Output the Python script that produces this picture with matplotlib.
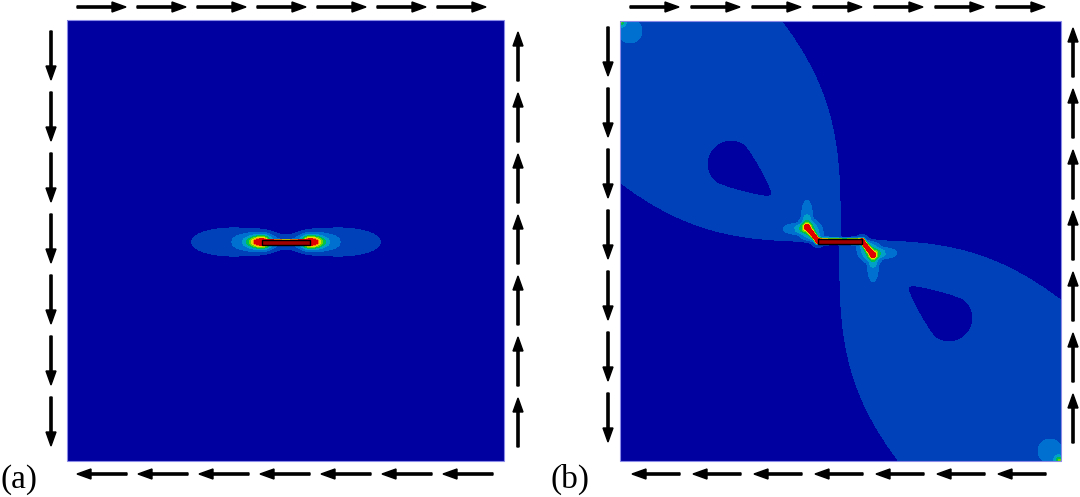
import numpy as np
import matplotlib
matplotlib.use("Agg")
import matplotlib.pyplot as plt
from matplotlib.patches import Rectangle

# contour bands (jet-like, stepped)
levels = [-100, 1, 2, 3, 4, 5, 6, 7, 8, 1000]
band_colors = ['#0000a0', '#0040b8', '#0070d0', '#00a0c8', '#00c050',
               '#70d800', '#e8e000', '#ff8000', '#e00000']

# crack geometry (image pixels)
crack_a = [(262, 242), (310, 242)]
crack_b = [(807, 227), (818, 241), (862, 241), (873, 255)]
centre_b = (840, 241)

# boundary loading arrows: count per side
n_arrows = 7
labels = ['(a)', '(b)']


def seg_dist(x, y, p, q):
    px, py = p
    qx, qy = q
    dx, dy = qx - px, qy - py
    t = ((x - px) * dx + (y - py) * dy) / (dx * dx + dy * dy)
    t = np.clip(t, 0, 1)
    return np.hypot(x - (px + t * dx), y - (py + t * dy))


def field_a(X, Y):
    V = np.zeros_like(X)
    (x0, y0), (x1, y1) = crack_a
    for tip, ex in [((x0, y0), -1.0), ((x1, y1), 1.0)]:
        u = (X - tip[0]) * ex
        v = Y - tip[1]
        q = ((u - 32) / 46) ** 2 + (v / 16.5) ** 2
        V += 1.6 * np.exp(-q ** 2)
        a = np.where(u > 0, 1.0, 0.5)
        rho = np.sqrt((u / a) ** 2 + (v / 0.4) ** 2)
        V += 14.4 * np.exp(-rho / 8.4)
    d = seg_dist(X, Y, crack_a[0], crack_a[1])
    V += 1.4 * np.exp(-(d / 9) ** 2) + 14 * np.exp(-(d / 2) ** 4)
    return V


def ellip(X, Y, c, sx, sy):
    q = ((X - c[0]) / sx) ** 2 + ((Y - c[1]) / sy) ** 2
    return np.exp(-q ** 2)


def upper_left_parts(X, Y):
    # dark hole (teardrop) inside the shear band
    c = np.array([731.0, 164.0])
    tp = np.array([771.0, 195.0])
    L = np.hypot(*(tp - c))
    ex, ey = (tp - c) / L
    R = 24.0
    t = (X - c[0]) * ex + (Y - c[1]) * ey
    n = -(X - c[0]) * ey + (Y - c[1]) * ex
    At = np.where(t < 0, R, L)
    ns = np.maximum(R * (1 - 0.55 * np.clip(t, 0, None) / L), 0.5)
    q = (t / At) ** 2 + (n / ns) ** 2
    hole = 0.5 * (1 + np.tanh((1 - q) / 0.08))

    extra = np.zeros_like(X)
    # corner blob
    extra += 1.0 * ellip(X, Y, (630, 31), 13, 13)
    extra += 3.5 * np.exp(-(np.hypot(X - 620, Y - 21) / 5) ** 2)
    # wing-crack tip lobes
    p0, p1 = crack_b[0], crack_b[1]
    extra += 1.2 * ellip(X, Y, (807, 213), 5, 13)
    extra += 1.2 * ellip(X, Y, (795, 229), 12, 5)
    extra += 1.0 * ellip(X, Y, (811, 231), 11, 9)
    extra += 4.0 * np.exp(-np.hypot(X - p0[0], Y - p0[1]) / 4)
    d = seg_dist(X, Y, p0, p1)
    extra += 9 * np.exp(-(d / 1.6) ** 2) + 3.2 * np.exp(-d / 3.5)
    return hole, extra


def field_b(X, Y):
    cx, cy = centre_b
    Xn, Yn = (X - cx) / 220, (Y - cy) / 220
    s = (Xn + Yn) / np.sqrt(2)
    d = (Xn - Yn) / np.sqrt(2)
    w = 0.56 * np.tanh(np.abs(s) / 0.55)
    band = 0.5 * (1 + np.tanh((w - np.abs(d)) / 0.01))
    keep = np.ones_like(X)
    extra = np.zeros_like(X)
    for sg in (1, -1):
        hole, ex = upper_left_parts(cx + sg * (X - cx), cy + sg * (Y - cy))
        keep *= 1 - hole
        extra += ex
    dc = seg_dist(X, Y, crack_b[1], crack_b[2])
    extra += 10 * np.exp(-(dc / 2.2) ** 2)
    return 0.5 + band * keep + extra


fig = plt.figure(figsize=(10.8, 4.97), dpi=100)
ax = fig.add_axes([0, 0, 1, 1])
ax.set_xlim(0, 1080)
ax.set_ylim(497, 0)
ax.axis('off')

frames = [(67, 20, 504, 461), (620, 21, 1061, 461)]
for (l, t, r, b), fn in zip(frames, [field_a, field_b]):
    X, Y = np.meshgrid(np.arange(l, r + 0.01, 0.5), np.arange(t, b + 0.01, 0.5))
    ax.contourf(X, Y, fn(X, Y), levels=levels, colors=band_colors)
    ax.add_patch(Rectangle((l, t), r - l, b - t, fill=False, ec='#8a8ae8', lw=0.8))

# crack rectangles
for (x0, x1, yc) in [(262, 310, 242), (818, 862, 241)]:
    ax.add_patch(Rectangle((x0, yc - 2.5), x1 - x0, 5, fc='#a00000', ec='black', lw=1))

akw = dict(width=2.2, head_width=10, head_length=14, length_includes_head=True,
           fc='black', ec='black')
k = np.arange(n_arrows)
# panel (a)
for x in 77 + 60 * k:
    ax.arrow(x, 7, 49, 0, **akw)
for x in 77 + 61 * k:
    ax.arrow(x + 50, 474, -50, 0, **akw)
for y in 31 + 61 * k:
    ax.arrow(51, y, 0, 49, **akw)
for y in 32 + 61 * k:
    ax.arrow(518, y + 49, 0, -49, **akw)
# panel (b)
for x in 630 + 61 * k:
    ax.arrow(x, 7, 49, 0, **akw)
for x in 632 + 61 * k:
    ax.arrow(x + 48, 474, -48, 0, **akw)
for y in 27 + 61 * k:
    ax.arrow(608, y, 0, 49, **akw)
for y in 28 + 61 * k:
    ax.arrow(1073, y + 49, 0, -49, **akw)

for x, lab in zip([1, 551], labels):
    ax.text(x, 488, lab, fontsize=24, family='Liberation Serif', va='baseline', ha='left')

fig.savefig('out.png', dpi=100)
